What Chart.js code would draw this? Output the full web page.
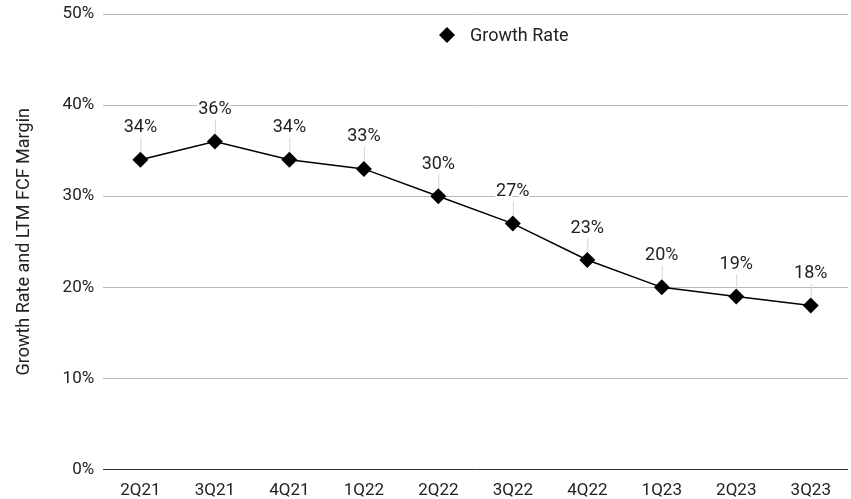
<!DOCTYPE html>
<html>
<head>
<meta charset="utf-8">
<script src="https://cdn.jsdelivr.net/npm/chart.js@4"></script>
<style>
  html, body { margin: 0; padding: 0; background: #fff; }
  #wrap { width: 851px; height: 499px; }
</style>
</head>
<body>
<div id="wrap"><canvas id="c" width="851" height="499"></canvas></div>
<script>
const quarters = ['2Q21','3Q21','4Q21','1Q22','2Q22','3Q22','4Q22','1Q23','2Q23','3Q23'];
const growthRate = [34, 36, 34, 33, 30, 27, 23, 20, 19, 18];
const yTicks = [0, 10, 20, 30, 40, 50];
const seriesName = 'Growth Rate';
const axisTitle = 'Growth Rate and LTM FCF Margin';

const FONT = 'Roboto, "Noto Sans", sans-serif';

// labels above points with a thin leader line, plus a legend inside the plot
const decor = {
  id: 'decor',
  afterDatasetsDraw(chart) {
    const ctx = chart.ctx;
    const meta = chart.getDatasetMeta(0);
    ctx.save();
    ctx.font = '18px ' + FONT;
    ctx.textAlign = 'center';
    ctx.textBaseline = 'middle';
    meta.data.forEach((pt, i) => {
      const x = pt.x, y = pt.y;
      ctx.strokeStyle = '#d4d4d4';
      ctx.lineWidth = 1;
      ctx.beginPath();
      ctx.moveTo(x + 0.5, y - 8);
      ctx.lineTo(x + 0.5, y - 22);
      ctx.stroke();
      const txt = growthRate[i] + '%';
      ctx.lineWidth = 4;
      ctx.strokeStyle = '#fff';
      ctx.lineJoin = 'round';
      ctx.strokeText(txt, x, y - 32);
      ctx.fillStyle = '#222';
      ctx.fillText(txt, x, y - 32);
    });
    // legend
    const lx = 447, ly = 35;
    ctx.fillStyle = '#000';
    ctx.beginPath();
    ctx.moveTo(lx, ly - 8); ctx.lineTo(lx + 8, ly); ctx.lineTo(lx, ly + 8); ctx.lineTo(lx - 8, ly);
    ctx.closePath();
    ctx.fill();
    ctx.textAlign = 'left';
    ctx.fillStyle = '#222';
    ctx.fillText(seriesName, lx + 23, ly + 1);
    ctx.restore();
  }
};

const noEdgePad = s => { s.paddingTop = 0; s.paddingBottom = 0; s.paddingLeft = 0; s.paddingRight = 0; };

new Chart(document.getElementById('c'), {
  type: 'line',
  data: {
    labels: quarters,
    datasets: [{
      label: seriesName,
      data: growthRate,
      borderColor: '#000',
      borderWidth: 1.5,
      pointStyle: 'rectRot',
      pointRadius: 8,
      pointHoverRadius: 8,
      pointBackgroundColor: '#000',
      pointBorderColor: '#000',
      pointBorderWidth: 0,
      tension: 0
    }]
  },
  options: {
    responsive: false,
    animation: false,
    events: [],
    layout: { autoPadding: false, padding: { top: 14, right: 3, left: 14, bottom: -13 } },
    plugins: { legend: { display: false }, tooltip: { enabled: false } },
    scales: {
      x: {
        offset: true,
        afterFit: noEdgePad,
        grid: { display: false, drawTicks: false },
        border: { display: false },
        ticks: { color: '#222', font: { family: FONT, size: 17 }, padding: 11 }
      },
      y: {
        min: 0, max: 50,
        afterFit: noEdgePad,
        afterBuildTicks: axis => { axis.ticks = yTicks.map(v => ({ value: v })); },
        grid: {
          color: ctx => ctx.tick && ctx.tick.value === 0 ? '#333' : '#b8b8b8',
          lineWidth: 1,
          drawTicks: false
        },
        border: { display: false },
        ticks: { color: '#222', font: { family: FONT, size: 17 }, padding: 9, callback: v => v + '%' },
        title: { display: true, text: axisTitle, color: '#222', font: { family: FONT, size: 18 }, padding: { top: 0, bottom: 18 } }
      }
    }
  },
  plugins: [decor]
});
</script>
</body>
</html>
